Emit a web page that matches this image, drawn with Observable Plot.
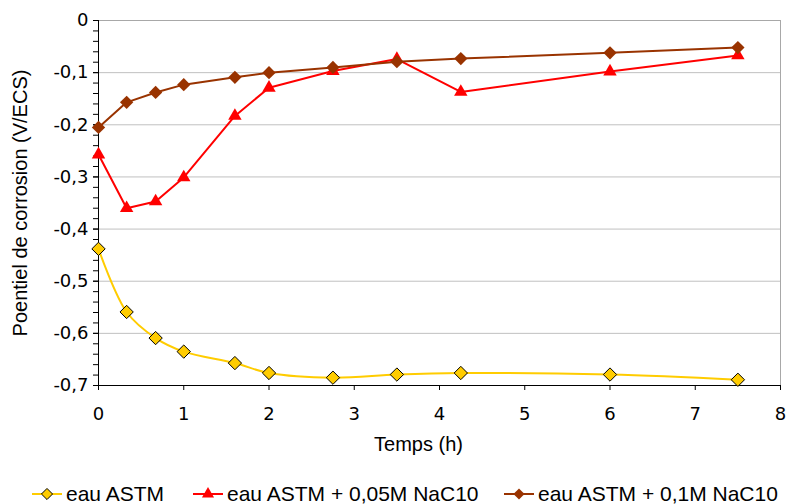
<!DOCTYPE html>
<html>
<head>
<meta charset="utf-8">
<script src="https://cdn.jsdelivr.net/npm/d3@7"></script>
<script src="https://cdn.jsdelivr.net/npm/@observablehq/plot@0.6"></script>
<style>
  html, body { margin: 0; padding: 0; background: #fff; }
  body { font-family: "Liberation Sans", Arial, sans-serif; }
  #wrap { position: relative; width: 787px; height: 504px; overflow: hidden; }
  #legend { position: absolute; left: 0; top: 460px; width: 787px; height: 44px; }
  .item { position: absolute; top: 22px; height: 24px; display: flex; align-items: center; font-size: 21px; color: #000; white-space: nowrap; }
  .item svg { margin-right: 4px; }
</style>
</head>
<body>
<div id="wrap">
  <div id="chart"></div>
  <div id="legend"></div>
</div>
<script>
// ---- Data ----
const times = [0, 0.33, 0.67, 1, 1.6, 2, 2.75, 3.5, 4.25, 6, 7.5];
const eauASTM = [-0.438, -0.559, -0.609, -0.635, -0.657, -0.676, -0.685, -0.679, -0.676, -0.679, -0.689];
const nac005 = [-0.257, -0.360, -0.347, -0.301, -0.183, -0.129, -0.097, -0.074, -0.137, -0.098, -0.067];
const nac01 = [-0.205, -0.157, -0.138, -0.123, -0.109, -0.100, -0.090, -0.079, -0.073, -0.062, -0.052];
const seriesNames = ["eau ASTM", "eau ASTM + 0,05M NaC10", "eau ASTM + 0,1M NaC10"];
const seriesColors = ["#FFCC00", "#FF0000", "#993300"];
const yTicks = [0, -0.1, -0.2, -0.3, -0.4, -0.5, -0.6, -0.7];
const xTicks = [0, 1, 2, 3, 4, 5, 6, 7, 8];
const xLabel = "Temps (h)";
const yLabel = "Poentiel de corrosion (V/ECS)";

const yMinor = d3.range(0, 36).map(i => -i * 0.02);
const rows = (vals) => times.map((t, i) => ({t, v: vals[i]}));
const s1 = rows(eauASTM), s2 = rows(nac005), s3 = rows(nac01);
const fmt = d => d === 0 ? "0" : d.toFixed(1).replace(".", ",");
const font = "'Liberation Sans', Arial, sans-serif";
const tickFont = "'DejaVu Sans', Verdana, sans-serif";

const chart = Plot.plot({
  width: 787,
  height: 460,
  marginLeft: 98,
  marginRight: 7,
  marginTop: 20,
  marginBottom: 75,
  style: {fontFamily: font, fontSize: "18px", background: "#fff", color: "#000", overflow: "visible"},
  x: {domain: [0, 8]},
  y: {domain: [-0.7, 0]},
  marks: [
    Plot.ruleY(yTicks.filter(d => d !== 0 && d !== -0.7), {stroke: "#c0c0c0", strokeWidth: 1}),
    Plot.frame({stroke: "#a8a8a8", strokeWidth: 1}),
    Plot.ruleX([0], {stroke: "#000", strokeWidth: 1}),
    Plot.ruleY([-0.7], {stroke: "#000", strokeWidth: 1}),
    Plot.axisY({ticks: yMinor, tickSize: 5, tickFormat: () => "", label: null, stroke: "#000"}),
    Plot.text(yTicks, {x: 0, y: d => d, text: fmt, frameAnchor: "left", textAnchor: "end", dx: -10, fontFamily: tickFont, fontSize: 18, fill: "#000"}),
    Plot.axisY({ticks: yTicks, tickSize: 5, tickFormat: () => "", label: null, stroke: "#000"}),
    Plot.axisX({ticks: xTicks, tickSize: 5, tickFormat: () => "", label: null, stroke: "#000"}),
    Plot.text(xTicks, {x: d => d, y: -0.7, text: d => String(d), lineAnchor: "top", dy: 22, fontFamily: tickFont, fontSize: 18, fill: "#000"}),
    Plot.text([xLabel], {frameAnchor: "bottom", dy: 65, dx: -21, fontSize: 20, fill: "#000"}),
    Plot.text([yLabel], {frameAnchor: "left", textAnchor: "middle", dx: -78, rotate: -90, fontSize: 20, fill: "#000"}),
    // series 1: eau ASTM (smoothed)
    Plot.line(s1, {x: "t", y: "v", stroke: seriesColors[0], strokeWidth: 2, curve: "catmull-rom"}),
    Plot.dot(s1, {x: "t", y: "v", symbol: "diamond2", r: 6, fill: seriesColors[0], stroke: "#000", strokeWidth: 1}),
    // series 2
    Plot.line(s2, {x: "t", y: "v", stroke: seriesColors[1], strokeWidth: 2}),
    Plot.dot(s2, {x: "t", y: "v", symbol: "triangle", r: 5, fill: seriesColors[1]}),
    // series 3
    Plot.line(s3, {x: "t", y: "v", stroke: seriesColors[2], strokeWidth: 2}),
    Plot.dot(s3, {x: "t", y: "v", symbol: "diamond2", r: 6, fill: seriesColors[2]})
  ]
});
document.getElementById("chart").appendChild(chart);

// ---- Legend ----
const legend = document.getElementById("legend");
const legendLeft = [32, 193, 504];
const legendSymbols = [d3.symbolDiamond2, d3.symbolTriangle, d3.symbolDiamond2];
const legendSizes = [Math.PI * 5 * 5, Math.PI * 4.5 * 4.5, Math.PI * 5 * 5];
seriesNames.forEach((name, i) => {
  const item = document.createElement("div");
  item.className = "item";
  item.style.left = legendLeft[i] + "px";
  const path = d3.symbol(legendSymbols[i], legendSizes[i])();
  const stroke = i === 0 ? ' stroke="#000" stroke-width="1"' : '';
  item.innerHTML =
    `<svg width="30" height="20" viewBox="0 0 30 20">` +
    `<line x1="0" x2="30" y1="10" y2="10" stroke="${seriesColors[i]}" stroke-width="2"/>` +
    `<path d="${path}" transform="translate(15,10)" fill="${seriesColors[i]}"${stroke}/>` +
    `</svg><span>${name}</span>`;
  legend.appendChild(item);
});
</script>
</body>
</html>
